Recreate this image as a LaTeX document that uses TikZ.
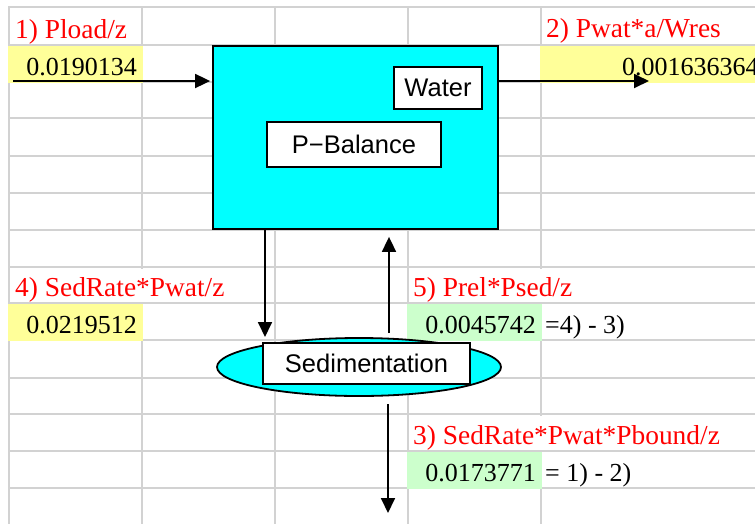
\documentclass[tikz,border=0pt]{standalone}
\usepackage{fontspec}
\setmainfont{Liberation Serif}
\newfontfamily\gothic{Liberation Sans}
\usetikzlibrary{arrows.meta,shapes.geometric}

\definecolor{gridgray}{RGB}{210,210,210}
\definecolor{cellyellow}{RGB}{255,255,153}
\definecolor{cellgreen}{RGB}{204,255,204}
\definecolor{labelred}{RGB}{255,0,0}
\definecolor{lakecyan}{RGB}{0,255,255}

\tikzset{
  gridline/.style={draw=gridgray,line width=2pt},
  sheettext/.style={inner sep=0pt,font=\fontsize{26}{30}\selectfont},
  redlabel/.style={inner sep=0pt,font=\fontsize{27.4}{30}\selectfont,anchor=base west,text=labelred},
  valnum/.style={sheettext,anchor=base east},
  plaintext/.style={sheettext,anchor=base west},
  lakebox/.style={draw=black,fill=lakecyan,line width=1.8pt,inner sep=0pt,
    minimum width=285pt,minimum height=183pt},
  labelbox/.style={draw=black,fill=white,line width=1.8pt,inner sep=0pt,
    font=\gothic\fontsize{25.5}{28}\selectfont},
  sedell/.style={ellipse,draw=black,fill=lakecyan,line width=1.8pt,inner sep=0pt,
    minimum width=284pt,minimum height=58pt},
  flow/.style={draw=black,line width=1.8pt,-{Triangle[length=15pt,width=14pt]}}
}

\begin{document}
\begin{tikzpicture}[x=1pt,y=-1pt]
\useasboundingbox (0,0) rectangle (755,523);
\clip (0,0) rectangle (755,523);

% spreadsheet grid
\foreach \gx in {9,142,275,408,541}
  \draw[gridline] (\gx,7) -- (\gx,530);
\foreach \gy in {7,45,82,118,156,193,230,267,303,340,378,414,451,488}
  \draw[gridline] (8,\gy) -- (760,\gy);

% text running over into the next cell hides the cell border
\fill[white] (140,268.5) rectangle (144,301.5);
\fill[white] (539,268.5) rectangle (543,301.5);
\fill[white] (539,415.5) rectangle (543,449.5);

% shaded value cells
\fill[cellyellow] (8,46) rectangle (143,83);
\fill[cellyellow] (540,46) rectangle (760,83);
\fill[cellyellow] (8,304) rectangle (143,341);
\fill[cellgreen] (407,304) rectangle (542,341);
\fill[cellgreen] (407,452) rectangle (542,489);

% cell contents
\node[redlabel] (l1) at (15,38) {1) Pload/z};
\node[valnum] (v1) at (137,75) {0.0190134};
\node[redlabel] (l2) at (546,37) {2) Pwat*a/Wres};
\node[plaintext] (v2) at (622,75) {0.001636364};
\node[redlabel] (l4) at (15,296) {4) SedRate*Pwat/z};
\node[valnum] (v4) at (137,333) {0.0219512};
\node[redlabel] (l5) at (413,296) {5) Prel*Psed/z};
\node[valnum] (v5) at (536,333) {0.0045742};
\node[plaintext] (f5) at (545,333) {=4) - 3)};
\node[redlabel] (l3) at (413,444) {3) SedRate*Pwat*Pbound/z};
\node[valnum] (v3) at (536,481) {0.0173771};
\node[plaintext] (f3) at (545,481) {= 1) - 2)};

% water body with its labels
\node[lakebox] (lake) at (355.5,137.5) {};
\node[labelbox,minimum width=88pt,minimum height=42pt] (water) at (438,88) {Water};
\node[labelbox,minimum width=174pt,minimum height=45pt] (pbal) at (354,144.5) {P−Balance};

% sediment compartment
\node[sedell] (sedell) at (359,367) {};
\node[labelbox,minimum width=207pt,minimum height=41pt] (sedbox) at (366.5,363.5) {Sedimentation};

% fluxes
\coordinate (inStart) at (13,81);
\coordinate (outEnd) at (649,81);
\coordinate (settleTip) at (265,337);
\coordinate (releaseFoot) at (389,333);
\coordinate (buryTop) at (388,404);
\coordinate (buryTip) at (388,513);

\draw[flow,shorten >=2pt] (inStart) -- (inStart -| lake.west);
\draw[flow] (lake.east |- outEnd) -- (outEnd);
\draw[flow] (lake.south -| settleTip) -- (settleTip);
\draw[flow,shorten >=7pt] (releaseFoot) -- (releaseFoot |- lake.south);
\draw[flow] (buryTop) -- (buryTip);
\end{tikzpicture}
\end{document}
